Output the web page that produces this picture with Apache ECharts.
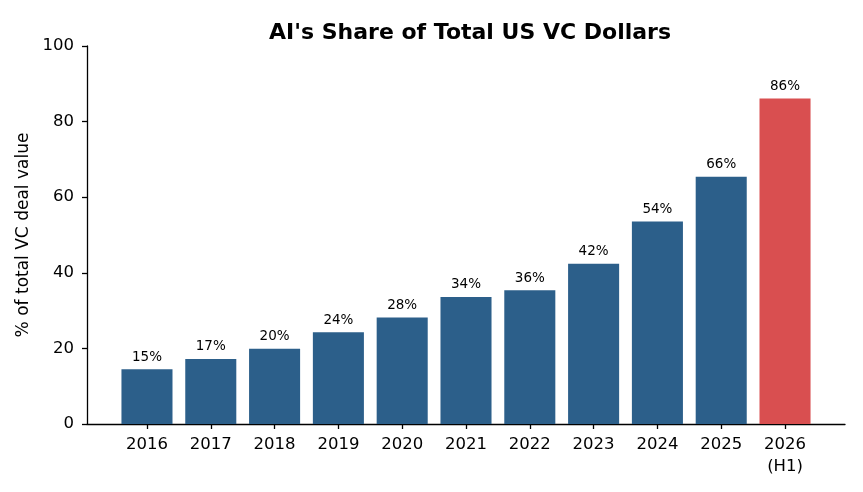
<!DOCTYPE html>
<html><head><meta charset="utf-8">
<script src="https://cdn.jsdelivr.net/npm/echarts@6/dist/echarts.min.js"></script>
<style>html,body{margin:0;padding:0;background:#fff}#c{width:863px;height:492px}</style>
</head><body><div id="c"></div>
<script>
var categories = ['2016','2017','2018','2019','2020','2021','2022','2023','2024','2025','2026\n(H1)'];
var shareValues = [14.5, 17.2, 19.9, 24.3, 28.2, 33.6, 35.4, 42.4, 53.6, 65.4, 86.1];
var valueLabels = ['15%','17%','20%','24%','28%','34%','36%','42%','54%','66%','86%'];
var barColors = ['#2c5f8a','#2c5f8a','#2c5f8a','#2c5f8a','#2c5f8a','#2c5f8a','#2c5f8a','#2c5f8a','#2c5f8a','#2c5f8a','#d94f50'];
var yTicks = [0, 20, 40, 60, 80, 100];

var font = 'DejaVu Sans';
var positions = categories.map(function(_, i){ return i; });
var data = shareValues.map(function(v, i){
  return { value: [i, v], itemStyle: { color: barColors[i] },
           label: { formatter: valueLabels[i] } };
});
var chart = echarts.init(document.getElementById('c'), null, {renderer:'canvas'});
chart.setOption({
  animation: false,
  backgroundColor: '#fff',
  title: { text: "AI's Share of Total US VC Dollars", left: 465, top: 17, textAlign: 'center',
    textStyle: { fontFamily: font, fontWeight: 'bold', fontSize: 22, color: '#000' } },
  grid: { left: 87, right: 18, top: 46, bottom: 68, containLabel: false },
  xAxis: {
    type: 'value', min: -0.94, max: 10.94,
    splitLine: { show: false },
    axisLine: { show: true, onZero: false, lineStyle: { color: '#000', width: 1.3 } },
    axisTick: { show: true, customValues: positions, length: 5, lineStyle: { color: '#000', width: 1.3 } },
    axisLabel: { customValues: positions, formatter: function(v){ return categories[Math.round(v)]; },
      fontFamily: font, fontSize: 16.5, color: '#000', margin: 10, lineHeight: 22 }
  },
  yAxis: {
    type: 'value', min: 0, max: 100, interval: 20,
    name: '% of total VC deal value', nameLocation: 'middle', nameGap: 53,
    nameTextStyle: { fontFamily: font, fontSize: 17, color: '#000' },
    splitLine: { show: false },
    axisLine: { show: true, onZero: false, lineStyle: { color: '#000', width: 1.3 } },
    axisTick: { show: true, length: 5, lineStyle: { color: '#000', width: 1.3 } },
    axisLabel: { customValues: yTicks, fontFamily: font, fontSize: 16.5, color: '#000', margin: 13 }
  },
  series: [{
    type: 'bar', data: data, barWidth: '80%',
    label: { show: true, position: 'top', distance: 5, fontFamily: font, fontSize: 13.5, color: '#000' }
  }]
});
</script></body></html>
